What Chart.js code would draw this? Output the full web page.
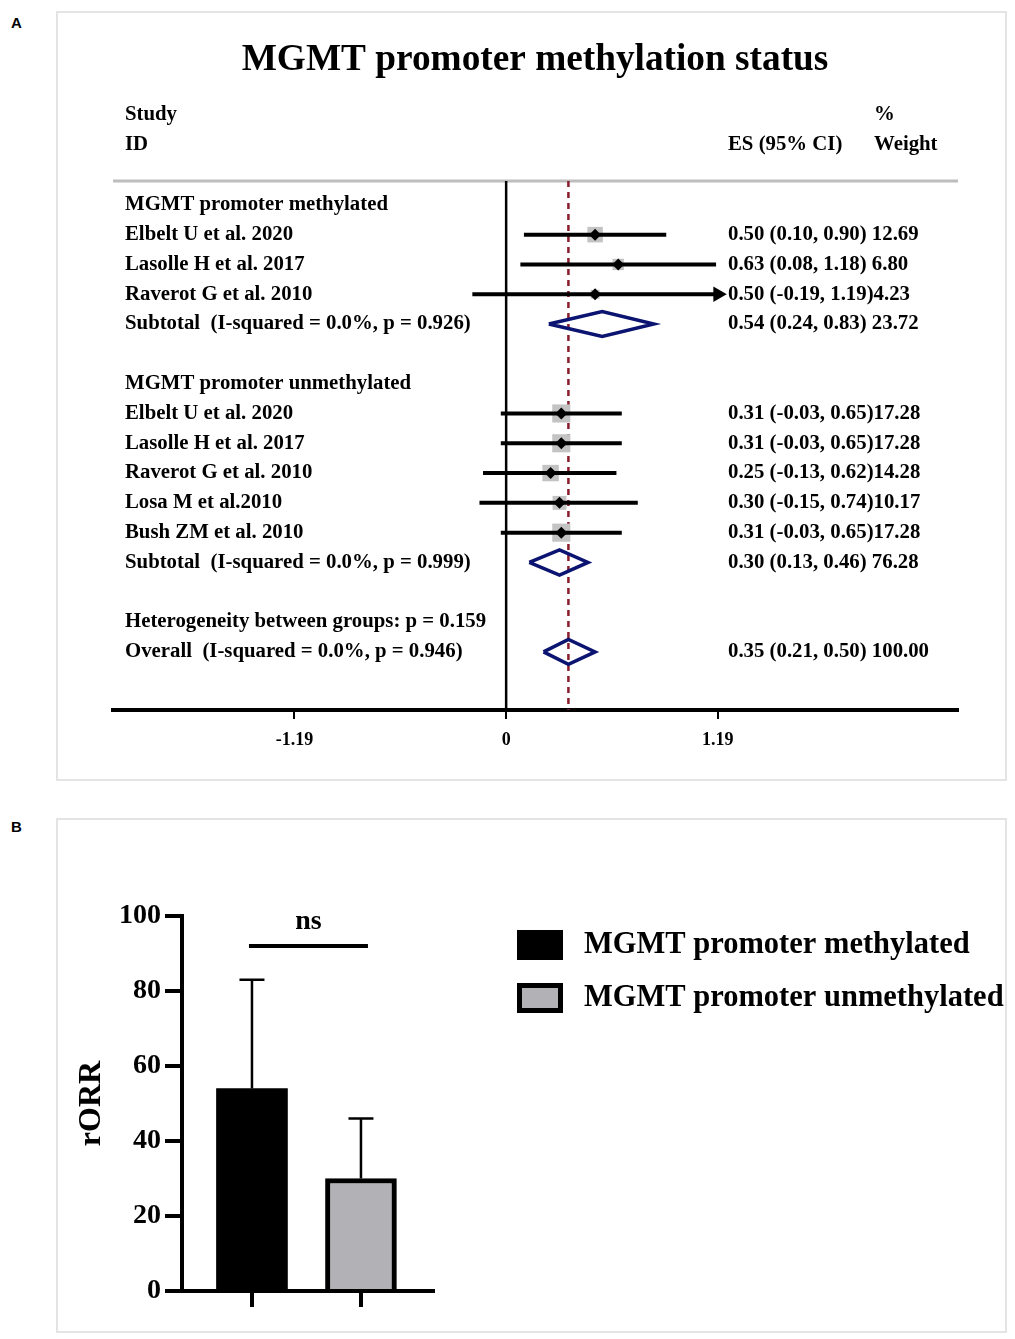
<!DOCTYPE html>
<html>
<head>
<meta charset="utf-8">
<script src="https://cdn.jsdelivr.net/npm/chart.js@4.4.1/dist/chart.umd.min.js"></script>
<style>
  body { margin: 0; background: #fff; width: 1015px; height: 1339px; position: relative; }
  .panel { position: absolute; border: 2px solid #e4e4e4; box-sizing: border-box; }
  .tag { position: absolute; font: bold 15px 'Liberation Sans', Arial, sans-serif; color: #000; }
  canvas { position: absolute; }
</style>
</head>
<body>
<div class="tag" style="left:11px;top:14px;">A</div>
<div class="panel" style="left:56px;top:11px;width:951px;height:770px;"></div>
<canvas id="forest" width="950" height="769" style="left:56px;top:11px;"></canvas>

<div class="tag" style="left:11px;top:818px;">B</div>
<div class="panel" style="left:56px;top:818px;width:951px;height:515px;"></div>
<canvas id="bars" width="950" height="514" style="left:56px;top:818px;"></canvas>

<script>
// ---- Panel A data (forest plot) ----
const groupNames = ['MGMT promoter methylated', 'MGMT promoter unmethylated'];
const studyLabels = ['Elbelt U et al. 2020', 'Lasolle H et al. 2017', 'Raverot G et al. 2010',
  'Elbelt U et al. 2020', 'Lasolle H et al. 2017', 'Raverot G et al. 2010', 'Losa M et al.2010', 'Bush ZM et al. 2010'];
const studyGroup = [0, 0, 0, 1, 1, 1, 1, 1];
const studyES = [0.50, 0.63, 0.50, 0.31, 0.31, 0.25, 0.30, 0.31];
const studyLow = [0.10, 0.08, -0.19, -0.03, -0.03, -0.13, -0.15, -0.03];
const studyHigh = [0.90, 1.18, 1.19, 0.65, 0.65, 0.62, 0.74, 0.65];
const studyWeight = [12.69, 6.80, 4.23, 17.28, 17.28, 14.28, 10.17, 17.28];
const subES = [0.54, 0.30];
const subLow = [0.24, 0.13];
const subHigh = [0.83, 0.46];
const subWeight = [23.72, 76.28];
const subI2 = ['0.0%', '0.0%'];
const subP = ['0.926', '0.999'];
const overallES = 0.35, overallLow = 0.21, overallHigh = 0.50, overallWeight = 100.00;
const overallI2 = '0.0%', overallP = '0.946', hetP = '0.159';
const xTicks = [-1.19, 0, 1.19];

// ---- Panel B data (bar chart) ----
const barLabels = ['MGMT promoter methylated', 'MGMT promoter unmethylated'];
const rorr = [54, 30];
const rorrUpper = [83, 46];
const yTicksB = [0, 20, 40, 60, 80, 100];
const sigText = 'ns';

const SERIF = "'Liberation Serif', 'Times New Roman', serif";

// build row layout
const rows = [];
let r = 0;
groupNames.forEach((g, gi) => {
  rows.push({ type: 'group', text: g, row: r++ });
  studyLabels.forEach((s, i) => {
    if (studyGroup[i] === gi) rows.push({ type: 'study', i, row: r++ });
  });
  rows.push({ type: 'subtotal', gi, row: r++ });
  r++;
});
rows.push({ type: 'het', row: r++ });
rows.push({ type: 'overall', row: r++ });

const studyRow = studyLabels.map((s, i) => rows.find(o => o.type === 'study' && o.i === i).row);
const subRow = groupNames.map((g, gi) => rows.find(o => o.type === 'subtotal' && o.gi === gi).row);
const overallRow = rows.find(o => o.type === 'overall').row;

function fmtES(es, lo, hi, w) {
  return es.toFixed(2) + ' (' + lo.toFixed(2) + ', ' + hi.toFixed(2) + ')' + (lo < 0 ? '' : ' ') + w.toFixed(2);
}

const dh = 0.42;
function diamond(es, lo, hi, row) {
  return {
    data: [{ x: lo, y: row }, { x: es, y: row - dh }, { x: hi, y: row }, { x: es, y: row + dh }, { x: lo, y: row }],
    showLine: true, borderColor: '#0b1470', borderWidth: 3.5, pointRadius: 0,
    borderJoinStyle: 'miter', fill: false
  };
}

const forestSets = [];
// markers on top
forestSets.push({
  data: studyES.map((v, i) => ({ x: v, y: studyRow[i] })),
  pointStyle: 'rectRot', pointRadius: 6, backgroundColor: '#000', borderWidth: 0
});
// CI lines
studyES.forEach((v, i) => {
  const arrow = studyHigh[i] >= xTicks[xTicks.length - 1];
  forestSets.push({
    data: [{ x: studyLow[i], y: studyRow[i] }, { x: studyHigh[i], y: studyRow[i] }],
    showLine: true, borderColor: '#000', borderWidth: 4,
    pointRadius: [0, arrow ? 7 : 0], pointStyle: 'triangle', rotation: 90,
    pointBackgroundColor: '#000', pointBorderColor: '#000', pointBorderWidth: 2
  });
});
// diamonds
subES.forEach((v, gi) => forestSets.push(diamond(v, subLow[gi], subHigh[gi], subRow[gi])));
forestSets.push(diamond(overallES, overallLow, overallHigh, overallRow));
// weight squares (drawn first)
forestSets.push({
  data: studyES.map((v, i) => ({ x: v, y: studyRow[i] })),
  pointStyle: 'rect',
  pointRadius: studyWeight.map(w => 4.35 * Math.sqrt(w) / Math.SQRT2),
  backgroundColor: '#c3c3c3', borderWidth: 0
});

const forestDecor = {
  id: 'forestDecor',
  beforeDatasetsDraw(chart) {
    const { ctx, chartArea: a, scales: { x } } = chart;
    ctx.save();
    ctx.strokeStyle = '#bdbdbd';
    ctx.lineWidth = 3;
    ctx.beginPath(); ctx.moveTo(a.left, a.top); ctx.lineTo(a.right, a.top); ctx.stroke();
    const x0 = x.getPixelForValue(0);
    ctx.strokeStyle = '#000';
    ctx.lineWidth = 2.5;
    ctx.beginPath(); ctx.moveTo(x0, a.top); ctx.lineTo(x0, a.bottom); ctx.stroke();
    const xo = x.getPixelForValue(overallES);
    ctx.strokeStyle = '#8a1c2c';
    ctx.setLineDash([6, 5]);
    ctx.beginPath(); ctx.moveTo(xo, a.top); ctx.lineTo(xo, a.bottom); ctx.stroke();
    ctx.restore();
  },
  afterDraw(chart) {
    const { ctx, scales: { y } } = chart;
    const left = 69, right = 672;
    ctx.save();
    ctx.fillStyle = '#000';
    ctx.textBaseline = 'middle';
    ctx.textAlign = 'center';
    ctx.font = 'bold 37.3px ' + SERIF;
    ctx.fillText('MGMT promoter methylation status', 479, 49);
    ctx.textAlign = 'left';
    ctx.font = 'bold 20.8px ' + SERIF;
    ctx.fillText('Study', left, 104);
    ctx.fillText('ID', left, 134);
    ctx.fillText('ES (95% CI)', right, 134);
    ctx.fillText('%', 818, 104);
    ctx.fillText('Weight', 818, 134);
    rows.forEach(o => {
      const py = y.getPixelForValue(o.row);
      if (o.type === 'group') {
        ctx.fillText(o.text, left, py);
      } else if (o.type === 'study') {
        ctx.fillText(studyLabels[o.i], left, py);
        ctx.fillText(fmtES(studyES[o.i], studyLow[o.i], studyHigh[o.i], studyWeight[o.i]), right, py);
      } else if (o.type === 'subtotal') {
        ctx.fillText('Subtotal  (I-squared = ' + subI2[o.gi] + ', p = ' + subP[o.gi] + ')', left, py);
        ctx.fillText(fmtES(subES[o.gi], subLow[o.gi], subHigh[o.gi], subWeight[o.gi]), right, py);
      } else if (o.type === 'het') {
        ctx.fillText('Heterogeneity between groups: p = ' + hetP, left, py);
      } else {
        ctx.fillText('Overall  (I-squared = ' + overallI2 + ', p = ' + overallP + ')', left, py);
        ctx.fillText(fmtES(overallES, overallLow, overallHigh, overallWeight), right, py);
      }
    });
    ctx.restore();
  }
};

new Chart(document.getElementById('forest'), {
  type: 'scatter',
  data: { datasets: forestSets },
  options: {
    responsive: false,
    animation: false,
    layout: { padding: { left: 57, top: 170, right: 48, bottom: 20 } },
    plugins: { legend: { display: false }, tooltip: { enabled: false } },
    scales: {
      x: {
        type: 'linear', min: -2.21, max: 2.54,
        afterBuildTicks: s => { s.ticks = xTicks.map(v => ({ value: v })); },
        afterFit: s => { s.height = 50; },
        border: { color: '#000', width: 4 },
        grid: { drawOnChartArea: false, color: '#000', lineWidth: 2, tickLength: 9 },
        ticks: { color: '#000', padding: 11, font: { family: SERIF, weight: 'bold', size: 18 }, callback: v => String(v) }
      },
      y: { display: false, reverse: true, min: -0.8, max: 16.95 }
    }
  },
  plugins: [forestDecor]
});

// ---- Panel B ----
const barDecor = {
  id: 'barDecor',
  afterDatasetsDraw(chart) {
    const { ctx, scales: { y } } = chart;
    ctx.save();
    ctx.strokeStyle = '#000';
    ctx.lineWidth = 2.5;
    const centers = chart.data.datasets.map((d, i) => chart.getDatasetMeta(i).data[0].x);
    centers.forEach((cx, i) => {
      const top = y.getPixelForValue(rorr[i]);
      const hi = y.getPixelForValue(rorrUpper[i]);
      ctx.beginPath();
      ctx.moveTo(cx, top); ctx.lineTo(cx, hi);
      ctx.moveTo(cx - 12.5, hi); ctx.lineTo(cx + 12.5, hi);
      ctx.stroke();
    });
    // significance bar
    const sy = y.getPixelForValue(92);
    ctx.lineWidth = 4;
    ctx.beginPath(); ctx.moveTo(centers[0] - 3, sy); ctx.lineTo(centers[1] + 7, sy); ctx.stroke();
    ctx.fillStyle = '#000';
    ctx.font = 'bold 28px ' + SERIF;
    ctx.textAlign = 'center';
    ctx.textBaseline = 'middle';
    ctx.fillText(sigText, (centers[0] + centers[1]) / 2 + 2, y.getPixelForValue(98.4));
    // legend
    ctx.textAlign = 'left';
    ctx.font = 'bold 30.5px ' + SERIF;
    chart.data.datasets.forEach((d, i) => {
      const by = 112 + i * 53;
      ctx.fillStyle = '#000';
      ctx.fillRect(461, by, 46, 30);
      if (d.borderWidth) {
        ctx.fillStyle = d.backgroundColor;
        ctx.fillRect(461 + d.borderWidth, by + d.borderWidth, 46 - 2 * d.borderWidth, 30 - 2 * d.borderWidth);
      }
      ctx.fillStyle = '#000';
      ctx.fillText(d.label, 528, by + 15);
    });
    ctx.restore();
  }
};

new Chart(document.getElementById('bars'), {
  type: 'bar',
  data: {
    datasets: [
      { label: barLabels[0], data: [{ x: 0, y: rorr[0] }], backgroundColor: '#000', borderColor: '#000', borderWidth: 0 },
      { label: barLabels[1], data: [{ x: 1, y: rorr[1] }], backgroundColor: '#b2b2b6', borderColor: '#000', borderWidth: 5 }
    ]
  },
  options: {
    responsive: false,
    animation: false,
    grouped: false,
    barThickness: 71,
    layout: { padding: { left: 0, top: 98, right: 573, bottom: 21 } },
    plugins: { legend: { display: false }, tooltip: { enabled: false } },
    scales: {
      x: {
        type: 'linear', min: -0.642, max: 1.661, offset: false,
        afterBuildTicks: s => { s.ticks = [{ value: 0 }, { value: 1 }]; },
        afterFit: s => { s.height = 20; },
        border: { color: '#000', width: 4 },
        grid: { offset: false, drawOnChartArea: false, color: '#000', lineWidth: 4, tickLength: 16 },
        ticks: { display: false }
      },
      y: {
        min: 0, max: 100,
        afterBuildTicks: s => { s.ticks = yTicksB.map(v => ({ value: v })); },
        afterFit: s => { s.width = 126; },
        border: { color: '#000', width: 4 },
        grid: { drawOnChartArea: false, color: '#000', lineWidth: 4, tickLength: 17 },
        ticks: { color: '#000', padding: 4, font: { family: SERIF, weight: 'bold', size: 28 } },
        title: { display: true, text: 'rORR', color: '#000', padding: { top: 17, bottom: 0 }, font: { family: SERIF, weight: 'bold', size: 32 } }
      }
    }
  },
  plugins: [barDecor]
});
</script>
</body>
</html>
